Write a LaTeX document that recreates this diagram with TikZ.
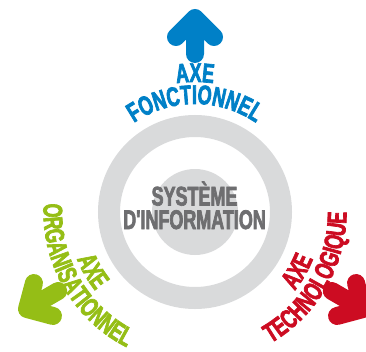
\documentclass[tikz,border=0pt]{standalone}
\usepackage{fontspec}
\newfontfamily\axefont{Liberation Sans Bold}[FakeStretch=0.665,FakeBold=2.5,Ligatures=TeXOff]
\usetikzlibrary{decorations.text}
\definecolor{axeblue}{RGB}{0,128,199}
\definecolor{axegreen}{RGB}{149,190,22}
\definecolor{axered}{RGB}{204,12,34}
\definecolor{ringgray}{RGB}{217,218,219}
\definecolor{textgray}{RGB}{110,110,112}
\newcommand\axestyle{\axefont\fontsize{27}{28}\selectfont}
\tikzset{
  axearrow/.style={line width=18pt, line cap=round, line join=round},
  axetext/.style 2 args={decorate, decoration={text along path, text align=center,
      text color=#1, text={|\axestyle|#2}}},
  centertext/.style={text=textgray, font=\axestyle, inner sep=0pt, anchor=base}
}
\begin{document}
\begin{tikzpicture}[x=1pt,y=1pt]
\useasboundingbox (-195,-139) rectangle (171,212);
\draw [ringgray, line width=22pt] (0,0) circle (86);
\fill [ringgray] (0,0) circle (43);
\node [centertext] (sys) at (-0.5,6.5) {SYSTÈME};
\node [centertext] (info) at (-0.5,-17) {D'INFORMATION};
\foreach \a/\c in {0/axeblue,120/axegreen,-120/axered} {
  \draw [axearrow, \c, rotate=\a] (-19,175) -- (0,194) -- (19,175)
        (0,194) -- (0,158);
}
% fonctionnel
\path [axetext={axeblue}{AXE}] (160:130) arc [start angle=160, end angle=20, radius=130];
\path [axetext={axeblue}{FONCTIONNEL}] (160:108) arc [start angle=160, end angle=20, radius=108];
% organisationnel
\path [axetext={axegreen}{AXE}] (140:127) arc [start angle=140, end angle=280, radius=127];
\path [axetext={axegreen}{ORGANISATIONNEL}] (140:151.5) arc [start angle=140, end angle=280, radius=151.5];
% technologique
\path [axetext={axered}{AXE}] (260:127) arc [start angle=260, end angle=400, radius=127];
\path [axetext={axered}{TECHNOLOGIQUE}] (260:151.5) arc [start angle=260, end angle=400, radius=151.5];
\end{tikzpicture}
\end{document}
